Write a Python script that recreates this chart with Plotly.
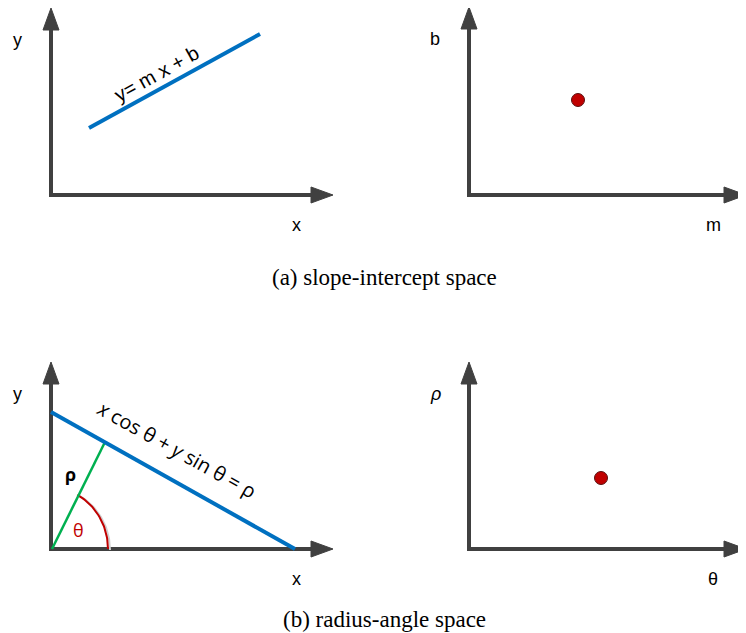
import numpy as np
import plotly.graph_objects as go

# page is 746x633; the html body keeps an 8px margin, so the figure is drawn 8px in
PAGE_W, PAGE_H = 746, 633
OFF = 8
W, H = PAGE_W - OFF, PAGE_H - OFF

# ---------------- data (panel units: origin at axis corner, y up, 1 unit ~ 1 px) -------------
# (a) image space: the line y = m x + b
line_a_x = [38, 209]
line_a_y = [67, 161]
# (a) parameter space: the single point (m, b)
point_m = [109]
point_b = [95]
# (b) image space: the line x cos(theta) + y sin(theta) = rho
line_b_x = [0, 244]
line_b_y = [137, 0]
# (b) normal from origin to the line (length rho, angle theta)
normal_x = [1, 54]
normal_y = [0, 107]
theta_span_deg = [0, 62.5]
# (b) parameter space: the single point (theta, rho)
point_theta = [132]
point_rho = [71]

# axis labels
axis_labels = [["x", "y"], ["m", "b"], ["x", "y"], ["θ", "<i>ρ</i>"]]
captions = ["(a) slope-intercept space", "(b) radius-angle space"]

# ---------------- layout geometry (page pixels) ----------------
origin_px = [(51, 195), (469, 195), (51, 549), (469, 549)]
x_tip = [282, 277, 282, 277]
y_tip = [187, 188, 187, 187]
x_label_dx = [-37, -33, -37, -33]
col_split = 373
row_split = 316.5
head_len, head_half = 22, 8

AX = "#404040"
BLUE = "#0070C0"
GREEN = "#00B050"
RED = "#C00000"

fig = go.Figure()
layout = dict(width=W, height=H, margin=dict(l=0, r=0, t=0, b=0),
              paper_bgcolor="white", plot_bgcolor="white", showlegend=False)

refs = []
for i, (ox, oy) in enumerate(origin_px):
    ox, oy = ox - OFF, oy - OFF
    col = i % 2
    row = i // 2
    left = 0 if col == 0 else col_split - OFF
    right = col_split - OFF if col == 0 else W
    top = 0 if row == 0 else row_split - OFF
    bottom = row_split - OFF if row == 0 else H
    sfx = "" if i == 0 else str(i + 1)
    xa = dict(domain=[left / W, right / W], range=[left - ox, right - ox],
              visible=False, fixedrange=True, anchor="y" + sfx)
    ya = dict(domain=[1 - bottom / H, 1 - top / H], range=[oy - bottom, oy - top],
              visible=False, fixedrange=True, anchor="x" + sfx)
    layout["xaxis" + sfx] = xa
    layout["yaxis" + sfx] = ya
    refs.append(("x" + sfx, "y" + sfx))

annotations = []
for i, (xr, yr) in enumerate(refs):
    xt, yt = x_tip[i], y_tip[i]
    # axis lines
    fig.add_trace(go.Scatter(x=[0, 0, xt - head_len + 2], y=[yt - head_len + 2, 0, 0],
                             mode="lines", line=dict(color=AX, width=4),
                             xaxis=xr, yaxis=yr, hoverinfo="skip"))
    # arrow heads
    fig.add_trace(go.Scatter(x=[0 - head_half, 0, head_half, 0 - head_half],
                             y=[yt - head_len, yt, yt - head_len, yt - head_len],
                             mode="lines", fill="toself", fillcolor=AX,
                             line=dict(color=AX, width=1), xaxis=xr, yaxis=yr, hoverinfo="skip"))
    fig.add_trace(go.Scatter(x=[xt - head_len, xt, xt - head_len, xt - head_len],
                             y=[-head_half, 0, head_half, -head_half],
                             mode="lines", fill="toself", fillcolor=AX,
                             line=dict(color=AX, width=1), xaxis=xr, yaxis=yr, hoverinfo="skip"))
    # axis labels
    xl, yl = axis_labels[i]
    annotations.append(dict(x=xt + x_label_dx[i], y=-30, xref=xr, yref=yr, text=xl,
                            showarrow=False, xanchor="center", yanchor="middle",
                            font=dict(family="Liberation Sans, Arial", size=18, color="black")))
    annotations.append(dict(x=-34, y=yt - 32, xref=xr, yref=yr, text=yl,
                            showarrow=False, xanchor="center", yanchor="middle",
                            font=dict(family="Liberation Sans, Arial", size=18, color="black")))

# (a) line y = m x + b
fig.add_trace(go.Scatter(x=line_a_x, y=line_a_y, mode="lines",
                         line=dict(color=BLUE, width=4), xaxis="x", yaxis="y", hoverinfo="skip"))
annotations.append(dict(x=105, y=121, xref="x", yref="y", text="y= m x + b", showarrow=False,
                        textangle=-29, xanchor="center", yanchor="middle",
                        font=dict(family="Liberation Sans, Arial", size=20, color="black")))

# (a) point (m, b)
fig.add_trace(go.Scatter(x=point_m, y=point_b, mode="markers",
                         marker=dict(color=RED, size=13, line=dict(color="#5a1010", width=1)),
                         xaxis="x2", yaxis="y2", hoverinfo="skip"))

# (b) angle arc (with soft shadow)
t = np.radians(np.linspace(theta_span_deg[0], theta_span_deg[1], 40))
arc_x = 57 * np.cos(t)
arc_y = 61 * np.sin(t)
fig.add_trace(go.Scatter(x=arc_x + 2, y=arc_y - 1, mode="lines",
                         line=dict(color="#d0d0d0", width=2), xaxis="x3", yaxis="y3", hoverinfo="skip"))
fig.add_trace(go.Scatter(x=arc_x, y=arc_y, mode="lines",
                         line=dict(color=RED, width=2), xaxis="x3", yaxis="y3", hoverinfo="skip"))
# (b) normal
fig.add_trace(go.Scatter(x=normal_x, y=normal_y, mode="lines",
                         line=dict(color=GREEN, width=2.5), xaxis="x3", yaxis="y3", hoverinfo="skip"))
# (b) line
fig.add_trace(go.Scatter(x=line_b_x, y=line_b_y, mode="lines",
                         line=dict(color=BLUE, width=4), xaxis="x3", yaxis="y3", hoverinfo="skip"))
annotations.append(dict(x=126, y=100, xref="x3", yref="y3",
                        text="<i>x</i> cos θ + <i>y</i> sin θ = ρ", showarrow=False, textangle=29,
                        xanchor="center", yanchor="middle",
                        font=dict(family="Open Sans, Noto Sans", size=20, color="black")))
annotations.append(dict(x=19, y=75, xref="x3", yref="y3", text="<b>ρ</b>", showarrow=False,
                        xanchor="center", yanchor="middle",
                        font=dict(family="Open Sans, Noto Sans", size=18, color="black")))
annotations.append(dict(x=27, y=19, xref="x3", yref="y3", text="θ", showarrow=False,
                        xanchor="center", yanchor="middle",
                        font=dict(family="Open Sans, Noto Sans", size=18, color=RED)))

# (b) point (theta, rho)
fig.add_trace(go.Scatter(x=point_theta, y=point_rho, mode="markers",
                         marker=dict(color=RED, size=13, line=dict(color="#5a1010", width=1)),
                         xaxis="x4", yaxis="y4", hoverinfo="skip"))

# captions
annotations.append(dict(x=(384 - OFF) / W, y=1 - (278 - OFF) / H, xref="paper", yref="paper",
                        text=captions[0], showarrow=False, xanchor="center", yanchor="middle",
                        font=dict(family="Liberation Serif, Times New Roman", size=23, color="black")))
annotations.append(dict(x=(385 - OFF) / W, y=1 - (619 - OFF) / H, xref="paper", yref="paper",
                        text=captions[1], showarrow=False, xanchor="center", yanchor="middle",
                        font=dict(family="Liberation Serif, Times New Roman", size=23, color="black")))

layout["annotations"] = annotations
fig.update_layout(**layout)
fig.write_html("out.html")
